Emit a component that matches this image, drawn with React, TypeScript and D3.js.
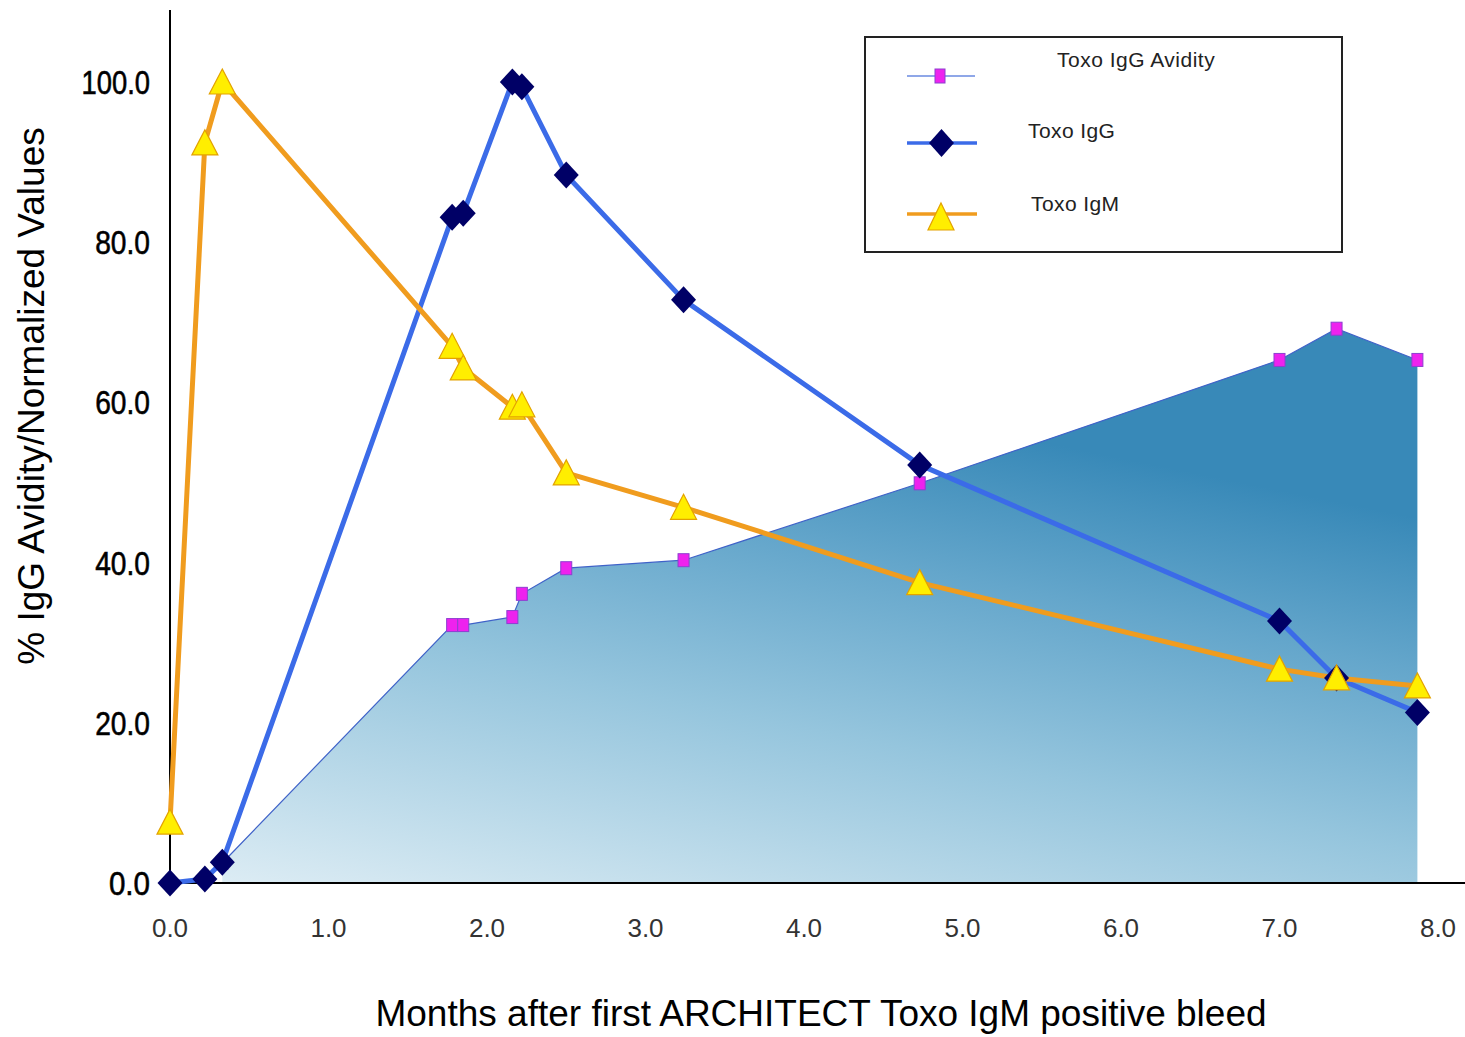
import React from "react";
import * as d3 from "d3";

const months = [0, 0.22, 0.33, 1.78, 1.85, 2.16, 2.22, 2.5, 3.24, 4.73, 7.0, 7.36, 7.87];
const toxoIgG = [0, 0.5, 2.6, 83.1, 83.6, 100, 99.4, 88.4, 72.8, 52.2, 32.7, 25.6, 21.3];
const toxoIgM = [7.6, 92.4, 100, 67.0, 64.3, 59.4, 59.7, 51.2, 46.9, 37.5, 26.7, 25.6, 24.6];
const avidityMonths = [0.33, 1.78, 1.85, 2.16, 2.22, 2.5, 3.24, 4.73, 7.0, 7.36, 7.87];
const avidity = [2.5, 32.2, 32.2, 33.2, 36.1, 39.3, 40.3, 49.9, 65.3, 69.2, 65.3];
const xTicks = [0, 1, 2, 3, 4, 5, 6, 7, 8];
const yTicks = [0, 20, 40, 60, 80, 100];
const legendLabels = ["Toxo IgG Avidity", "Toxo IgG", "Toxo IgM"];
const xTitle = "Months after first ARCHITECT Toxo IgM positive bleed";
const yTitle = "% IgG Avidity/Normalized Values";

const W = 1465;
const H = 1037;
const X0 = 170;
const X1 = 1438;
const Y0 = 883;
const Y1 = 82;

const x = d3.scaleLinear().domain([0, 8]).range([X0, X1]);
const y = d3.scaleLinear().domain([0, 100]).range([Y0, Y1]);

type P = [number, number];
const igg: P[] = months.map((m, i) => [m, toxoIgG[i]]);
const igm: P[] = months.map((m, i) => [m, toxoIgM[i]]);
const avi: P[] = avidityMonths.map((m, i) => [m, avidity[i]]);

const line = d3
  .line<P>()
  .x((d) => x(d[0]))
  .y((d) => y(d[1]));
const area = d3
  .area<P>()
  .x((d) => x(d[0]))
  .y0(y(0))
  .y1((d) => y(d[1]));

const IGG_LINE = "#3b6be8";
const IGG_MARK = "#000066";
const IGM_LINE = "#f09c1e";
const TRI_FILL = "#ffee00";
const TRI_STROKE = "#e3a200";
const AV_LINE = "#3f62c8";
const SQ_FILL = "#ee22ee";
const SQ_STROKE = "#8d3fd0";

const diamond = (cx: number, cy: number, hw = 12.5, hh = 13.5) =>
  `M${cx},${cy - hh}L${cx + hw},${cy}L${cx},${cy + hh}L${cx - hw},${cy}Z`;
const triangle = (cx: number, cy: number, hw = 13, up = 13, down = 12) =>
  `M${cx},${cy - up}L${cx + hw},${cy + down}L${cx - hw},${cy + down}Z`;

export default function App() {
  return (
    <svg
      width={W}
      height={H}
      viewBox={`0 0 ${W} ${H}`}
      style={{ position: "absolute", left: 0, top: 0, background: "#fff" }}
      fontFamily="'Liberation Sans', Arial, sans-serif"
    >
      <defs>
        <linearGradient id="avGrad" gradientUnits="userSpaceOnUse" x1={222} y1={883} x2={340} y2={300}>
          <stop offset="0" stopColor="#dcecf4" />
          <stop offset="0.45" stopColor="#95c5dd" />
          <stop offset="0.75" stopColor="#64a6cb" />
          <stop offset="1" stopColor="#3889b8" />
        </linearGradient>
      </defs>

      {/* avidity area */}
      <path d={area(avi) || ""} fill="url(#avGrad)" />
      <path d={line(avi) || ""} fill="none" stroke={AV_LINE} strokeWidth={1.2} />

      {/* axes */}
      <line x1={X0} x2={X0} y1={10} y2={Y0} stroke="#000" strokeWidth={2} />
      <line x1={X0} x2={W} y1={Y0} y2={Y0} stroke="#000" strokeWidth={2} />

      {avi.map((d, i) => (
        <rect
          key={"sq" + i}
          x={x(d[0]) - 5.5}
          y={y(d[1]) - 6.5}
          width={11}
          height={13}
          fill={SQ_FILL}
          stroke={SQ_STROKE}
          strokeWidth={1}
        />
      ))}

      <path d={line(igg) || ""} fill="none" stroke={IGG_LINE} strokeWidth={5} strokeLinejoin="round" />
      <path d={line(igm) || ""} fill="none" stroke={IGM_LINE} strokeWidth={5} strokeLinejoin="round" />

      {igg.map((d, i) => (
        <path key={"dm" + i} d={diamond(x(d[0]), y(d[1]))} fill={IGG_MARK} />
      ))}
      {igm.map((d, i) => (
        <path
          key={"tr" + i}
          d={triangle(x(d[0]), y(d[1]))}
          fill={TRI_FILL}
          stroke={TRI_STROKE}
          strokeWidth={1.2}
        />
      ))}

      {/* y tick labels */}
      {yTicks.map((t) => {
        const s = t.toFixed(1);
        return (
          <text
            key={"yt" + t}
            x={150}
            y={y(t)}
            textAnchor="end"
            dominantBaseline="central"
            fontSize={34}
            fill="#000"
            stroke="#000"
            strokeWidth={0.6}
            textLength={s.length * 13.7}
            lengthAdjust="spacingAndGlyphs"
          >
            {s}
          </text>
        );
      })}

      {/* x tick labels */}
      {xTicks.map((t) => (
        <text
          key={"xt" + t}
          x={x(t)}
          y={928}
          textAnchor="middle"
          dominantBaseline="central"
          fontSize={26}
          fill="#333"
        >
          {t.toFixed(1)}
        </text>
      ))}

      {/* axis titles */}
      <text x={821} y={1026} textAnchor="middle" fontSize={37} fill="#000">
        {xTitle}
      </text>
      <text
        transform={`translate(44,${396}) rotate(-90)`}
        textAnchor="middle"
        fontSize={37}
        fill="#000"
      >
        {yTitle}
      </text>

      {/* legend */}
      <rect x={865} y={37} width={477} height={215} fill="#fff" stroke="#222" strokeWidth={2} />
      <line x1={907} x2={975} y1={76} y2={76} stroke="#6a8ae0" strokeWidth={1.5} />
      <rect x={935} y={69} width={10} height={14} fill={SQ_FILL} stroke={SQ_STROKE} strokeWidth={1} />
      <line x1={907} x2={977} y1={143} y2={143} stroke={IGG_LINE} strokeWidth={3.5} />
      <path d={diamond(941.5, 143, 12.5, 14)} fill={IGG_MARK} />
      <line x1={907} x2={977} y1={214} y2={214} stroke={IGM_LINE} strokeWidth={3.5} />
      <path d={triangle(941, 216, 13, 13, 14)} fill={TRI_FILL} stroke={TRI_STROKE} strokeWidth={1.2} />
      <text x={1057} y={67} fontSize={21} letterSpacing={0.5} fill="#222">
        {legendLabels[0]}
      </text>
      <text x={1028} y={138} fontSize={21} letterSpacing={0.4} fill="#222">
        {legendLabels[1]}
      </text>
      <text x={1031} y={211} fontSize={21} letterSpacing={0.4} fill="#222">
        {legendLabels[2]}
      </text>
    </svg>
  );
}
